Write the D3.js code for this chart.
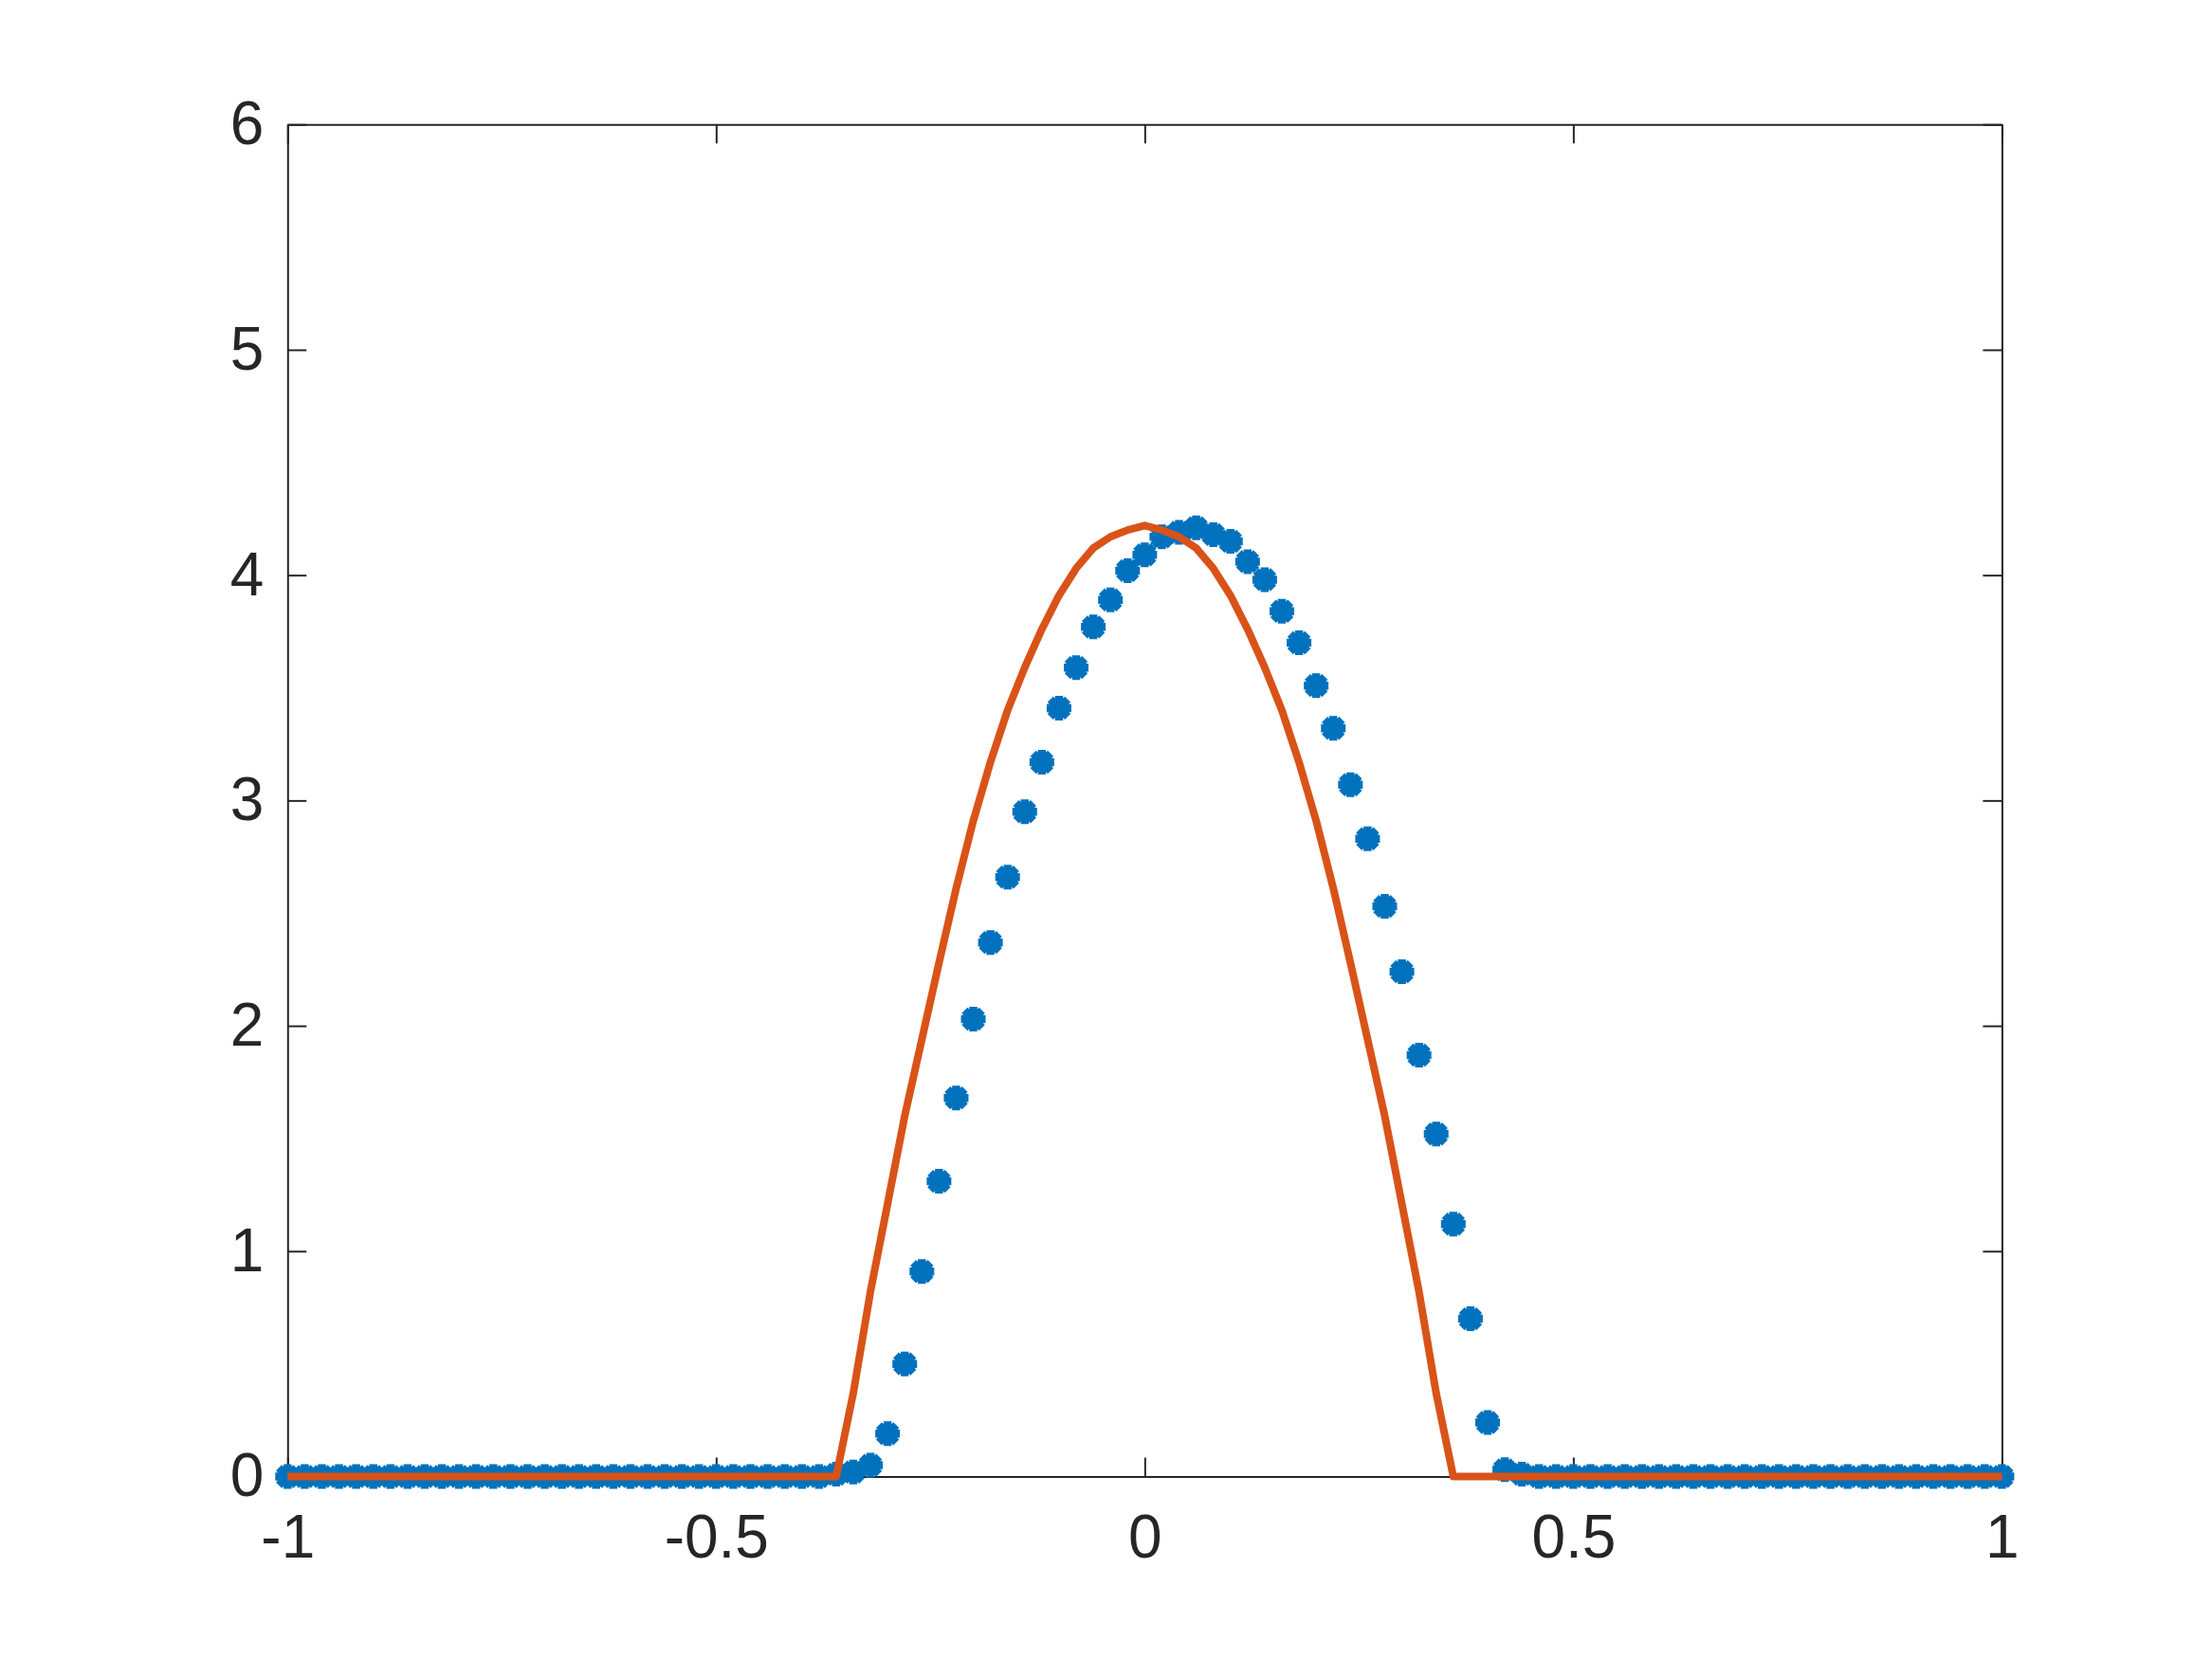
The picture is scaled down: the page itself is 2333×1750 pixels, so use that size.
<!DOCTYPE html>
<html>
<head>
<meta charset="utf-8">
<script src="https://d3js.org/d3.v7.min.js"></script>
<style>
  body { margin: 0; background: #fff; }
  .tick text { font-family: "Liberation Sans", Arial, Helvetica, sans-serif; font-size: 64px; fill: #262626; }
</style>
</head>
<body>
<script>
var svgWidth = 2333;
var svgHeight = 1750;

var margin = {
  top: 131.25,
  right: 221.6,
  bottom: 192.5,
  left: 303.3
};

var width = svgWidth - margin.left - margin.right;
var height = svgHeight - margin.top - margin.bottom;

// grid of sample points
var xValues = [
  -1.00, -0.98, -0.96, -0.94, -0.92, -0.90, -0.88, -0.86, -0.84, -0.82,
  -0.80, -0.78, -0.76, -0.74, -0.72, -0.70, -0.68, -0.66, -0.64, -0.62,
  -0.60, -0.58, -0.56, -0.54, -0.52, -0.50, -0.48, -0.46, -0.44, -0.42,
  -0.40, -0.38, -0.36, -0.34, -0.32, -0.30, -0.28, -0.26, -0.24, -0.22,
  -0.20, -0.18, -0.16, -0.14, -0.12, -0.10, -0.08, -0.06, -0.04, -0.02,
   0.00,  0.02,  0.04,  0.06,  0.08,  0.10,  0.12,  0.14,  0.16,  0.18,
   0.20,  0.22,  0.24,  0.26,  0.28,  0.30,  0.32,  0.34,  0.36,  0.38,
   0.40,  0.42,  0.44,  0.46,  0.48,  0.50,  0.52,  0.54,  0.56,  0.58,
   0.60,  0.62,  0.64,  0.66,  0.68,  0.70,  0.72,  0.74,  0.76,  0.78,
   0.80,  0.82,  0.84,  0.86,  0.88,  0.90,  0.92,  0.94,  0.96,  0.98,
   1.00
];

// numerical solution (blue asterisks)
var numericValues = [
  0, 0, 0, 0, 0, 0, 0, 0, 0, 0,
  0, 0, 0, 0, 0, 0, 0, 0, 0, 0,
  0, 0, 0, 0, 0, 0, 0, 0, 0, 0,
  0, 0, 0.01, 0.02, 0.05, 0.19, 0.50, 0.91, 1.31, 1.68,
  2.03, 2.37, 2.66, 2.95, 3.17, 3.41, 3.59, 3.77, 3.89, 4.02,
  4.09, 4.17, 4.19, 4.21, 4.18, 4.15, 4.06, 3.98, 3.84, 3.70,
  3.51, 3.32, 3.07, 2.83, 2.53, 2.24, 1.87, 1.52, 1.12, 0.70,
  0.24, 0.03, 0.01, 0, 0, 0, 0, 0, 0, 0,
  0, 0, 0, 0, 0, 0, 0, 0, 0, 0,
  0, 0, 0, 0, 0, 0, 0, 0, 0, 0,
  0
];

// exact solution (orange line)
var exactValues = [
  0, 0, 0, 0, 0, 0, 0, 0, 0, 0,
  0, 0, 0, 0, 0, 0, 0, 0, 0, 0,
  0, 0, 0, 0, 0, 0, 0, 0, 0, 0,
  0, 0, 0, 0.37, 0.82, 1.21, 1.60, 1.94, 2.28, 2.61,
  2.91, 3.17, 3.40, 3.59, 3.76, 3.91, 4.03, 4.12, 4.17, 4.20,
  4.22, 4.20, 4.17, 4.12, 4.03, 3.91, 3.76, 3.59, 3.40, 3.17,
  2.91, 2.61, 2.28, 1.94, 1.60, 1.21, 0.82, 0.37, 0, 0,
  0, 0, 0, 0, 0, 0, 0, 0, 0, 0,
  0, 0, 0, 0, 0, 0, 0, 0, 0, 0,
  0, 0, 0, 0, 0, 0, 0, 0, 0, 0,
  0
];

var xTicks = [-1, -0.5, 0, 0.5, 1];
var yTicks = [0, 1, 2, 3, 4, 5, 6];

var svg = d3.select("body")
  .append("svg")
  .attr("width", svgWidth)
  .attr("height", svgHeight);

var chartGroup = svg.append("g")
  .attr("transform", `translate(${margin.left}, ${margin.top})`);

var xScale = d3.scaleLinear().domain([-1, 1]).range([0, width]);
var yScale = d3.scaleLinear().domain([0, 6]).range([height, 0]);

var axisColor = "#262626";
var tickLen = 20;

// axes, ticks point inward on all four sides
var bottomAxis = d3.axisBottom(xScale).tickValues(xTicks).tickSizeInner(-tickLen).tickSizeOuter(0)
  .tickPadding(40).tickFormat(d => String(d));
var leftAxis = d3.axisLeft(yScale).tickValues(yTicks).tickSizeInner(-tickLen).tickSizeOuter(0)
  .tickPadding(25).tickFormat(d => String(d));
var topAxis = d3.axisTop(xScale).tickValues(xTicks).tickSizeInner(-tickLen).tickSizeOuter(0).tickFormat("");
var rightAxis = d3.axisRight(yScale).tickValues(yTicks).tickSizeInner(-tickLen).tickSizeOuter(0).tickFormat("");

chartGroup.append("g").attr("transform", `translate(0, ${height})`).call(bottomAxis);
chartGroup.append("g").call(leftAxis);
chartGroup.append("g").call(topAxis);
chartGroup.append("g").attr("transform", `translate(${width}, 0)`).call(rightAxis);

chartGroup.selectAll(".domain, .tick line")
  .attr("stroke", axisColor)
  .attr("stroke-width", 2);

// asterisk markers
var h = 13;
var d = h * 0.7071;
var starPath = `M${-h},0H${h}M0,${-h}V${h}M${-d},${-d}L${d},${d}M${-d},${d}L${d},${-d}`;

var points = xValues.map((x, i) => ({ x: x, y: numericValues[i] }));
var lineData = xValues.map((x, i) => ({ x: x, y: exactValues[i] }));

chartGroup.selectAll(".star")
  .data(points)
  .enter()
  .append("path")
  .classed("star", true)
  .attr("d", starPath)
  .attr("transform", p => `translate(${xScale(p.x)}, ${yScale(p.y)})`)
  .attr("fill", "none")
  .attr("stroke", "#0072BD")
  .attr("stroke-width", 8.5);

var line = d3.line()
  .x(p => xScale(p.x))
  .y(p => yScale(p.y));

chartGroup.append("path")
  .datum(lineData)
  .attr("d", line)
  .attr("fill", "none")
  .attr("stroke", "#D95319")
  .attr("stroke-width", 8)
  .attr("stroke-linejoin", "round");
</script>
</body>
</html>
